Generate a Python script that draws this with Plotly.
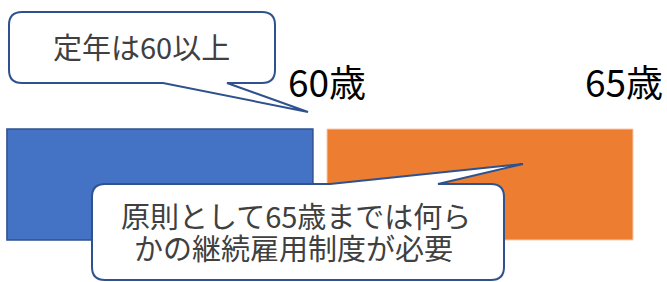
import plotly.graph_objects as go

# ---- data ----
periods = ["定年まで", "継続雇用"]
period_start = [55, 60]
period_end = [60, 65]
age_labels = ["60歳", "65歳"]
age_label_ages = [60, 65]
callout1_text = ["定年は60以上"]
callout2_text = ["原則として65歳までは何ら", "かの継続雇用制度が必要"]

# ---- style ----
W, H = 667, 282
bar_colors = ["#4472C4", "#ED7D31"]
bar_lines = ["#2F528F", "#F8CBAD"]
gap_years = 0.23
FONT = "Noto Sans CJK JP"

bases = [period_start[0] - gap_years, period_start[1]]
lengths = [e - s for s, e in zip(period_start, period_end)]

fig = go.Figure()
for i in range(2):
    fig.add_trace(go.Bar(
        y=[0], x=[lengths[i]], base=[bases[i]], orientation="h", width=1,
        marker=dict(color=bar_colors[i], line=dict(color=bar_lines[i], width=1.5 if i == 0 else 1)),
        name=periods[i], hoverinfo="skip", showlegend=False,
    ))

pxyr = 61.2
x0 = 60 - 327 / pxyr
x1 = x0 + W / pxyr
ytop = 0.5 + 129 / 111
ybot = -0.5 - (H - 240) / 111


def P(x, y):
    return f"{x / W:.5f},{1 - y / H:.5f}"


def callout(x0_, y0_, x1_, y1_, r, tail_a, tail_b, tip, side):
    s = f"M{P(x0_ + r, y0_)} "
    if side == "top":
        s += f"L{P(tail_a, y0_)} L{P(*tip)} L{P(tail_b, y0_)} "
    s += f"L{P(x1_ - r, y0_)} Q{P(x1_, y0_)} {P(x1_, y0_ + r)} "
    s += f"L{P(x1_, y1_ - r)} Q{P(x1_, y1_)} {P(x1_ - r, y1_)} "
    if side == "bottom":
        s += f"L{P(tail_b, y1_)} L{P(*tip)} L{P(tail_a, y1_)} "
    s += f"L{P(x0_ + r, y1_)} Q{P(x0_, y1_)} {P(x0_, y1_ - r)} "
    s += f"L{P(x0_, y0_ + r)} Q{P(x0_, y0_)} {P(x0_ + r, y0_)} Z"
    return s


shapes = [
    dict(type="path", xref="paper", yref="paper",
         path=callout(9, 12, 275, 83, 13, 163, 227, (308, 112), "bottom"),
         fillcolor="white", line=dict(color="#2F528F", width=2), layer="above"),
    dict(type="path", xref="paper", yref="paper",
         path=callout(92, 184, 504, 280, 13, 330, 438, (523, 164), "top"),
         fillcolor="white", line=dict(color="#2F528F", width=2), layer="above"),
]

annotations = [
    dict(x=141 / W, y=1 - 46 / H, xref="paper", yref="paper", text=callout1_text[0],
         showarrow=False, font=dict(family=FONT, size=29, color="#404040"),
         xanchor="center", yanchor="middle"),
    dict(x=296 / W, y=1 - 215 / H, xref="paper", yref="paper", text=callout2_text[0],
         showarrow=False, font=dict(family=FONT, size=29, color="#404040"),
         xanchor="center", yanchor="middle"),
    dict(x=293 / W, y=1 - 247 / H, xref="paper", yref="paper", text=callout2_text[1],
         showarrow=False, font=dict(family=FONT, size=29, color="#404040"),
         xanchor="center", yanchor="middle"),
]
shifts = [0, -9]
for a, lab, sh in zip(age_label_ages, age_labels, shifts):
    annotations.append(dict(x=a, y=1 - 81 / H, xref="x", yref="paper", text=lab,
                            showarrow=False, xshift=sh,
                            font=dict(family=FONT, size=37, color="#000000"),
                            xanchor="center", yanchor="middle"))

fig.update_layout(
    width=W, height=H, margin=dict(l=0, r=0, t=0, b=0),
    paper_bgcolor="white", plot_bgcolor="white",
    xaxis=dict(range=[x0, x1], visible=False, fixedrange=True),
    yaxis=dict(range=[ybot, ytop], visible=False, fixedrange=True),
    shapes=shapes, annotations=annotations, barmode="overlay",
)
fig.write_html("out.html", config={"displayModeBar": False},
               post_script="document.body.style.margin='0';document.body.style.overflow='hidden';")
